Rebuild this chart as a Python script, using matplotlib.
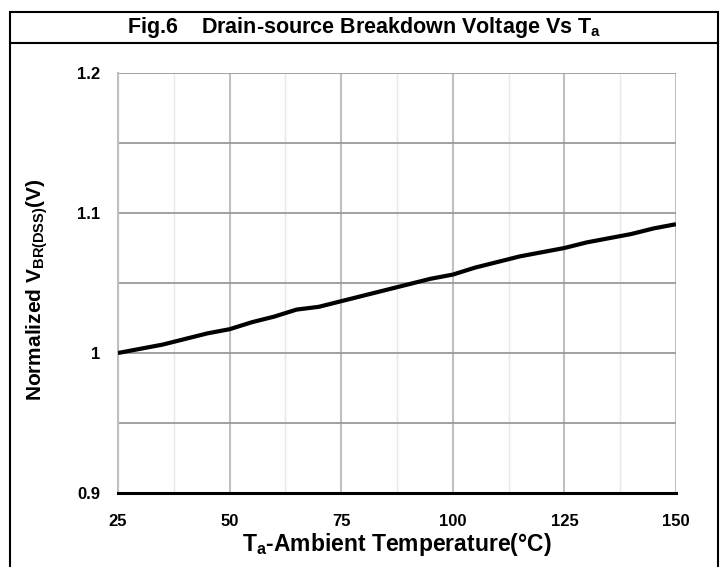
import matplotlib
matplotlib.use("Agg")
import matplotlib.pyplot as plt
from matplotlib.patches import Rectangle
from matplotlib.lines import Line2D
from matplotlib.ticker import MultipleLocator

temps = [25, 30, 35, 40, 45, 50, 55, 60, 65, 70, 75, 80, 85, 90, 95, 100,
         105, 110, 115, 120, 125, 130, 135, 140, 145, 150]
vbr = [1.000, 1.003, 1.006, 1.010, 1.014, 1.017, 1.022, 1.026, 1.031, 1.033,
       1.037, 1.041, 1.045, 1.049, 1.053, 1.056, 1.061, 1.065, 1.069, 1.072,
       1.075, 1.079, 1.082, 1.085, 1.089, 1.092]
x_ticks = [25, 50, 75, 100, 125, 150]
y_ticks = [0.9, 1.0, 1.1, 1.2]
y_tick_labels = ["0.9", "1", "1.1", "1.2"]

fam = ['Liberation Sans', 'DejaVu Sans']
plt.rcParams['mathtext.fontset'] = 'custom'
plt.rcParams['mathtext.rm'] = 'Liberation Sans:bold'
plt.rcParams['mathtext.bf'] = 'Liberation Sans:bold'

W, H = 728, 567
fig = plt.figure(figsize=(W / 100, H / 100), dpi=100)
fig.patch.set_facecolor('white')

# outer frame and title band
fig.add_artist(Rectangle((10 / W, -0.05), 708 / W, (H - 12) / H + 0.05,
                         transform=fig.transFigure, fill=False, ec='black', lw=1.5))
fig.add_artist(Line2D([10 / W, 718 / W], [(H - 43) / H] * 2,
                      transform=fig.transFigure, color='black', lw=1.5))
fig.text(364 / W, (H - 28) / H,
         r'Fig.6    Drain-source Breakdown Voltage Vs T$_\mathregular{a}$',
         ha='center', va='center', fontsize=15.5, fontweight='bold', family=fam)

ax = fig.add_axes([118 / W, (H - 493) / H, (676 - 118) / W, (493 - 73) / H])
ax.set_xlim(25, 150)
ax.set_ylim(0.9, 1.2)
ax.set_xticks(x_ticks)
ax.set_xticklabels([str(t) for t in x_ticks])
ax.xaxis.set_minor_locator(MultipleLocator(12.5))
ax.set_yticks(y_ticks)
ax.set_yticklabels(y_tick_labels)
ax.set_yticks([0.95, 1.05, 1.15], minor=True)

ax.grid(True, which='major', axis='y', color='#9a9a9a', lw=1.3)
ax.grid(True, which='minor', axis='y', color='#9a9a9a', lw=1.3)
ax.grid(True, which='major', axis='x', color='#c0c0c0', lw=1.5)
ax.grid(True, which='minor', axis='x', color='#e8e8e8', lw=1.0)
ax.set_axisbelow(True)

for s in ['top', 'right']:
    ax.spines[s].set_visible(False)
ax.spines['left'].set_color('#bfbfbf')
ax.spines['left'].set_linewidth(1.5)
ax.spines['bottom'].set_color('black')
ax.spines['bottom'].set_linewidth(2.2)
ax.spines['bottom'].set_zorder(5)

ax.tick_params(which='both', length=0)
ax.tick_params(axis='y', pad=13)
ax.tick_params(axis='x', pad=15)
for lab in ax.get_xticklabels() + ax.get_yticklabels():
    lab.set_fontsize(12)
    lab.set_fontweight('bold')
    lab.set_family(fam)

ax.plot(temps, vbr, color='black', lw=3, solid_capstyle='butt', zorder=4)

fig.text(397 / W, (H - 545) / H,
         r'T$_\mathregular{a}$-Ambient Temperature(°C)',
         ha='center', va='center', fontsize=16.5, fontweight='bold', family=fam)
fig.text(37 / W, (H - 290) / H,
         r'Normalized V$_\mathregular{BR(DSS)}$(V)',
         ha='center', va='center', rotation=90, fontsize=15, fontweight='bold',
         family=fam)

fig.savefig('out.png', dpi=100)
